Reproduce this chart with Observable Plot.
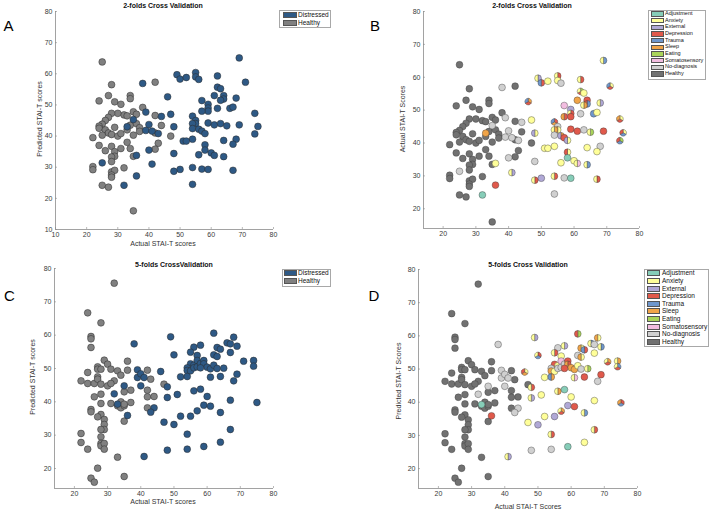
<!DOCTYPE html>
<html><head><meta charset="utf-8">
<script src="https://cdn.jsdelivr.net/npm/d3@7"></script>
<script src="https://cdn.jsdelivr.net/npm/@observablehq/plot@0.6"></script>
<style>
body{margin:0;background:#fff;font-family:"Liberation Sans",Arial,Helvetica,sans-serif;}
#wrap{position:relative;width:711px;height:510px;overflow:hidden;background:#fff;}
.abs{position:absolute;white-space:nowrap;line-height:1;}
.c{transform:translate(-50%,-50%);}
.rot{transform:translate(-50%,-50%) rotate(-90deg);}
.title{font-weight:bold;font-size:7px;color:#111;}
.axl{font-size:7px;color:#333;}
.letter{font-size:15px;color:#000;}
.lg{border:1px solid #a8a8a8;background:#fff;box-sizing:border-box;}
.sw{position:absolute;border:0.6px solid #555;box-sizing:border-box;}
.lt{position:absolute;color:#111;white-space:nowrap;line-height:1;transform:translateY(-50%);}
svg{position:absolute;}
</style></head><body><div id="wrap"></div>
<script>
// ---------- categories ----------
const groups = ["Distressed", "Healthy"];
const groupColors = ["#2e5985", "#808080"];
const categories = ["Adjustment","Anxiety","External","Depression","Trauma","Sleep","Eating","Somatosensory","No-diagnosis","Healthy"];
const categoryCodes = ["J","A","E","D","T","S","G","P","N","H"];
const categoryColors = ["#86cdb8","#ffff99","#b0a8d6","#e0594b","#6f97cc","#f0a448","#a9d45a","#f2bde0","#d0d0d0","#717171"];

// ---------- tick labels ----------
const ticksA = [10,20,30,40,50,60,70,80];
const ticksBCD = [20,30,40,50,60,70,80];

// ---------- 2-folds CV: [actual, predicted, diagnosis codes] ----------
const twoFold = [
[25,63.8,"H"],[28,56.5,"H"],[42,57.3,"H"],[24,51.3,"H"],[27,53,"H"],[29,51,"H"],[31,50.2,"H"],[34,53,"H"],[34,52,"H"],
[38,49.2,"H"],[35,47.8,"H"],[36,47,"H"],[32,46.8,"H"],[33,46.5,"H"],[30,47.3,"H"],[28,47.3,"H"],[27,46,"H"],[26,45,"H"],
[25,43.8,"H"],[24,43.2,"H"],[24,42.5,"H"],[26,42,"H"],[27,41,"H"],[28,40.5,"H"],[25,40.3,"H"],[29,42.8,"H"],[30,40,"H"],
[31,40.8,"H"],[33,42,"H"],[34,43.5,"H"],[36,44,"H"],[37,42.7,"H"],[37,41.5,"H"],[35,40.3,"H"],[42,46.6,"H"],[44,43.4,"H"],
[42,41,"H"],[47,40,"H"],[43,37.7,"H"],[42,35.8,"H"],[22,39.5,"H"],[24,37,"H"],[26,35.3,"H"],[28,36.7,"H"],[29,35,"H"],
[31,36,"H"],[33,38,"H"],[34,36,"H"],[29,33.5,"H"],[28,33.3,"H"],[28,31.8,"H"],[35,33.5,"H"],[22,30.2,"H"],[22,29.2,"H"],
[28,28.5,"H"],[29,29,"H"],[28,27.5,"H"],[28,26.8,"H"],[32,29.8,"H"],[25,24.2,"H"],[27,23.6,"H"],[35,16,"H"],
[69,65.1,"TA"],[71,57.3,"ADT"],[49,59.7,"EA"],[50,58.3,"DT"],[52,58.8,"A"],[55,60.4,"DA"],[55,59,"A"],[56,58.2,"N"],
[62,59.3,"DA"],[38,56.9,"N"],[46,52.6,"SDT"],[62,55.7,"GDA"],[63,55.2,"A"],[61,53,"S"],[64,53,"D"],[64,51.9,"TD"],
[63,51.5,"SA"],[68,52.2,"EA"],[57,51.4,"P"],[59,50.2,"E"],[59,49,"DSA"],[59,48,"D"],[62,48.9,"N"],[66,48.9,"T"],
[67,49.3,"A"],[57,48,"DS"],[74,47.3,"ADS"],[47,47,"A"],[44,46.3,"N"],[39,47.7,"N"],[35,45.3,"N"],[54,46.4,"DST"],
[55,45,"N"],[55,44,"AS"],[54,44,"SA"],[59,44.2,"D"],[61,43.6,"D"],[63,44,"N"],[65,43.3,"GA"],[69,43.6,"D"],
[75,43.1,"ATD"],[33,43,"S"],[40,43.7,"N"],[48,43,"AE"],[54,42.4,"N"],[56,42.2,"SE"],[57,41.6,"D"],[58,40.8,"AE"],
[39,41.8,"N"],[41,41.6,"N"],[43,40.8,"N"],[74,40.7,"GTD"],[68,39,"N"],[54,39,"A"],[51,38.4,"A"],[52,38.4,"A"],
[64,38.6,"A"],[58,37.2,"AD"],[67,37.4,"A"],[40,35.5,"N"],[58,35.5,"J"],[60,34.6,"A"],[61,33.8,"PA"],[56,34,"A"],
[48,34.4,"N"],[64,33.4,"TA"],[36,33.8,"A"],[25,31.4,"N"],[41,31,"EA"],[54,29.9,"DA"],[50,29.3,"E"],[48,28.7,"DA"],
[57,29.4,"N"],[59,29.3,"J"],[67,29,"DA"],[36,27.2,"D"],[32,24.2,"J"],[54,24.5,"N"]
];

// ---------- 5-folds CV: [actual, predicted, diagnosis codes] ----------
const fiveFold = [
[32,75.6,"H"],[24,66.7,"H"],[28,63.7,"H"],[25,59.6,"H"],[25,58.9,"H"],[25,56.3,"H"],[29,52.5,"H"],[30,51.3,"H"],
[31,49.8,"H"],[27,50.5,"H"],[27,49.8,"H"],[28,49.8,"H"],[24,48.8,"H"],[36,52.2,"H"],[36,49.5,"H"],[33,49.3,"H"],
[34,48,"H"],[42,49.5,"H"],[22,46.3,"H"],[24,45.5,"H"],[26,45.5,"H"],[27,47.5,"H"],[27,46.8,"H"],[28,45.3,"H"],
[32,46.3,"H"],[30,44.8,"H"],[31,45.5,"H"],[43,46.8,"H"],[26,41.5,"H"],[28,42.3,"H"],[35,43,"H"],[37,43.5,"H"],
[42,43.5,"H"],[42,41.5,"H"],[44,41.6,"H"],[28,39.5,"H"],[31,39.5,"H"],[33,38.8,"H"],[34,38.2,"H"],[35,38.8,"H"],
[34,40,"H"],[35,39.3,"H"],[37,39.8,"H"],[42,38.2,"H"],[25,37.7,"H"],[25,37,"H"],[28,36.2,"H"],[27,35.5,"H"],
[29,34.7,"H"],[29,33.2,"H"],[29,31.7,"H"],[28,31.7,"H"],[35,34.2,"H"],[28,29.5,"H"],[28,27.5,"H"],[28,26.8,"H"],
[29,27.5,"H"],[29,25.8,"H"],[22,30.5,"H"],[22,27.8,"H"],[24,25.8,"H"],[33,23.4,"H"],[27,20.1,"H"],[25,17.1,"H"],
[26,15.9,"H"],[35,17.6,"H"],[47,45.3,"H"],
[38,57.4,"N"],[49,59.5,"EA"],[62,60.6,"GD"],[68,59.4,"AS"],[56,56.4,"N"],[58,57,"EA"],[55,54.9,"DA"],[57,53.9,"A"],
[50,54.1,"DTA"],[63,56.3,"AS"],[64,55.8,"DT"],[66,57.7,"TA"],[67,57.4,"N"],[69,56.7,"TA"],[67,54.8,"A"],[62,54.1,"N"],
[63,53.6,"AS"],[71,52.2,"SDA"],[74,52.4,"SA"],[74,50.7,"TDA"],[55,51.4,"D"],[54,50.2,"N"],[54,49.4,"S"],[55,49.3,"A"],
[56,51,"A"],[56,50.2,"N"],[57,52.4,"P"],[57,50.5,"N"],[58,51.5,"N"],[59,52.4,"D"],[59,51.4,"DS"],[60,50.4,"S"],
[61,49.9,"S"],[62,51,"A"],[63,50,"N"],[65,50.1,"GA"],[58,50.2,"D"],[61,47.4,"PA"],[64,47.6,"D"],[69,48.3,"D"],
[68,46.3,"N"],[46,49.1,"ASD"],[39,49.6,"N"],[39,47.3,"N"],[40,48.4,"N"],[41,47.3,"N"],[35,44.8,"N"],[40,44.8,"N"],
[48,44.5,"DA"],[32,42.4,"N"],[33,39.3,"J"],[36,35.9,"D"],[44,38.2,"N"],[43,36.9,"N"],[48,41.3,"EA"],[51,42.2,"A"],
[47,33.9,"A"],[50,33.2,"E"],[52,47.5,"A"],[54,47.6,"ST"],[56,43.3,"SA"],[58,43.8,"J"],[60,41.6,"A"],[59,39,"E"],
[61,38.7,"D"],[57,37.3,"SDA"],[52,35.7,"A"],[55,35.7,"E"],[64,36.8,"TA"],[67,40.5,"A"],[75,39.8,"DTS"],[67,31.7,"DA"],
[54,30.3,"DA"],[59,26.6,"J"],[64,27.9,"A"],[48,25.5,"N"],[54,25.8,"N"],[41,23.6,"EA"]
];

const wrap = document.getElementById("wrap");
const FONT = "'Liberation Sans', Arial, Helvetica, sans-serif";
const nameOf = Object.fromEntries(categoryCodes.map((c, i) => [c, categories[i]]));

function wedgeSymbol(n, i) {
  return {
    draw(ctx, size) {
      const r = Math.sqrt(size / Math.PI);
      if (n === 1) { ctx.moveTo(r, 0); ctx.arc(0, 0, r, 0, 2 * Math.PI); ctx.closePath(); return; }
      const a0 = -Math.PI / 2 + i * 2 * Math.PI / n, a1 = a0 + 2 * Math.PI / n;
      ctx.moveTo(0, 0);
      ctx.arc(0, 0, r, a0, a1);
      ctx.closePath();
    }
  };
}
const wedgeKeys = [], wedgeSymbols = [];
for (let n = 1; n <= 4; n++) for (let i = 0; i < n; i++) { wedgeKeys.push(n + "-" + i); wedgeSymbols.push(wedgeSymbol(n, i)); }

function makePanel(cfg) {
  const pw = cfg.width - cfg.ml - cfg.mr, ph = cfg.height - cfg.mt - cfg.mb;
  const marks = [
    Plot.ruleX([cfg.xDomain[0]], {stroke: "#8a8a8a", strokeWidth: 0.8}),
    Plot.ruleY([cfg.yDomain[0]], {stroke: "#8a8a8a", strokeWidth: 0.8}),
    Plot.tickX(cfg.xTicks, {x: d => d, insetTop: ph - 2, stroke: "#8a8a8a", strokeWidth: 0.6}),
    Plot.tickY(cfg.yTicks, {y: d => d, insetRight: pw - 2, stroke: "#8a8a8a", strokeWidth: 0.6})
  ];
  const opts = {};
  if (cfg.mode === "group") {
    marks.push(Plot.dot(cfg.data, {
      x: d => d[0], y: d => d[1],
      fill: d => d[2] === "H" ? "Healthy" : "Distressed",
      r: 3.4, stroke: "#2a2a2a", strokeWidth: 0.5
    }));
    opts.color = {domain: groups, range: groupColors};
  } else {
    const wedges = cfg.data.flatMap(d => {
      const cs = d[2].split("");
      return cs.map((c, i) => ({x: d[0], y: d[1], cat: nameOf[c], key: cs.length + "-" + i}));
    });
    marks.push(Plot.dot(wedges, {
      x: "x", y: "y", fill: "cat", symbol: "key",
      r: 3.4, stroke: "#3a3a3a", strokeWidth: 0.4
    }));
    opts.color = {domain: categories, range: categoryColors};
    opts.symbol = {domain: wedgeKeys, range: wedgeSymbols};
  }
  const svg = Plot.plot({
    width: cfg.width, height: cfg.height,
    marginLeft: cfg.ml, marginRight: cfg.mr, marginTop: cfg.mt, marginBottom: cfg.mb,
    style: {fontFamily: FONT, fontSize: "7px", color: "#3a3a3a", background: "transparent", overflow: "visible"},
    x: {domain: cfg.xDomain, ticks: cfg.xTicks, tickSize: 0, tickPadding: 3, label: null},
    y: {domain: cfg.yDomain, ticks: cfg.yTicks, tickSize: 0, tickPadding: 3, label: null},
    ...opts,
    marks
  });
  svg.style.left = cfg.left + "px";
  svg.style.top = cfg.top + "px";
  wrap.appendChild(svg);
}

function text(cls, str, x, y, extra) {
  const d = document.createElement("div");
  d.className = "abs " + cls;
  d.textContent = str;
  d.style.left = x + "px"; d.style.top = y + "px";
  if (extra) Object.assign(d.style, extra);
  wrap.appendChild(d);
}

function legend(box, items, colors, rowY0, rowStep, swX, swW, swH, txX, fs) {
  const d = document.createElement("div");
  d.className = "abs lg";
  Object.assign(d.style, {left: box[0] + "px", top: box[1] + "px", width: box[2] + "px", height: box[3] + "px"});
  wrap.appendChild(d);
  items.forEach((lab, i) => {
    const cy = rowY0 + i * rowStep;
    const s = document.createElement("div");
    s.className = "sw";
    Object.assign(s.style, {left: swX + "px", top: (cy - swH / 2) + "px", width: swW + "px", height: swH + "px", background: colors[i]});
    wrap.appendChild(s);
    const t = document.createElement("div");
    t.className = "lt";
    t.textContent = lab;
    Object.assign(t.style, {left: txX + "px", top: cy + "px", fontSize: fs + "px"});
    wrap.appendChild(t);
  });
}

// Panel A
makePanel({mode: "group", data: twoFold, left: 0, top: 0, width: 355, height: 250, ml: 55, mr: 82, mt: 11, mb: 21,
  xDomain: [10, 80], yDomain: [10, 80], xTicks: ticksA, yTicks: ticksA});
// Panel B
makePanel({mode: "pie", data: twoFold, left: 355, top: 0, width: 356, height: 250, ml: 68, mr: 72, mt: 11, mb: 22,
  xDomain: [14, 80], yDomain: [14, 80], xTicks: ticksBCD, yTicks: ticksBCD});
// Panel C
makePanel({mode: "group", data: fiveFold, left: 0, top: 250, width: 355, height: 260, ml: 54, mr: 82, mt: 18, mb: 22,
  xDomain: [14, 80], yDomain: [14, 80], xTicks: ticksBCD, yTicks: ticksBCD});
// Panel D
makePanel({mode: "pie", data: fiveFold, left: 355, top: 250, width: 356, height: 260, ml: 63, mr: 74, mt: 19, mb: 22,
  xDomain: [14, 80], yDomain: [14, 80], xTicks: ticksBCD, yTicks: ticksBCD});

// Titles
text("title c", "2-folds Cross Validation", 163, 5);
text("title c", "2-folds Cross Validation", 532, 5);
text("title c", "5-folds CrossValidation", 174, 263.5);
text("title c", "5-folds Cross Validation", 528, 264);
// Axis labels
text("axl c", "Actual STAI-T scores", 163, 242.5);
text("axl rot", "Predicted STAI-T scores", 39, 119);
text("axl rot", "Actual STAI-T Scores", 401.5, 119);
text("axl c", "Actual STAI-T scores", 163, 501);
text("axl rot", "Predicted STAI-T scores", 32, 377);
text("axl c", "Actual STAI-T Scores", 528, 506);
text("axl rot", "Predicted STAI-T Scores", 398, 381);
// Panel letters
text("letter c", "A", 8.5, 25);
text("letter c", "B", 375, 25);
text("letter c", "C", 9.5, 295);
text("letter c", "D", 374, 295);
// Legends
legend([279, 10, 52, 18], groups, groupColors, 14.5, 8, 283, 13.5, 6, 298, 6.5);
legend([281.5, 268.5, 49, 18], groups, groupColors, 273, 8, 283.5, 13, 6, 298, 6.5);
legend([648, 10, 58, 70], categories, categoryColors, 14, 6.67, 650.5, 13.5, 5.2, 665, 5.5);
legend([644, 268.5, 64.5, 78], categories, categoryColors, 273.3, 7.6, 646.5, 13.5, 6, 662, 6.5);
</script></body></html>
